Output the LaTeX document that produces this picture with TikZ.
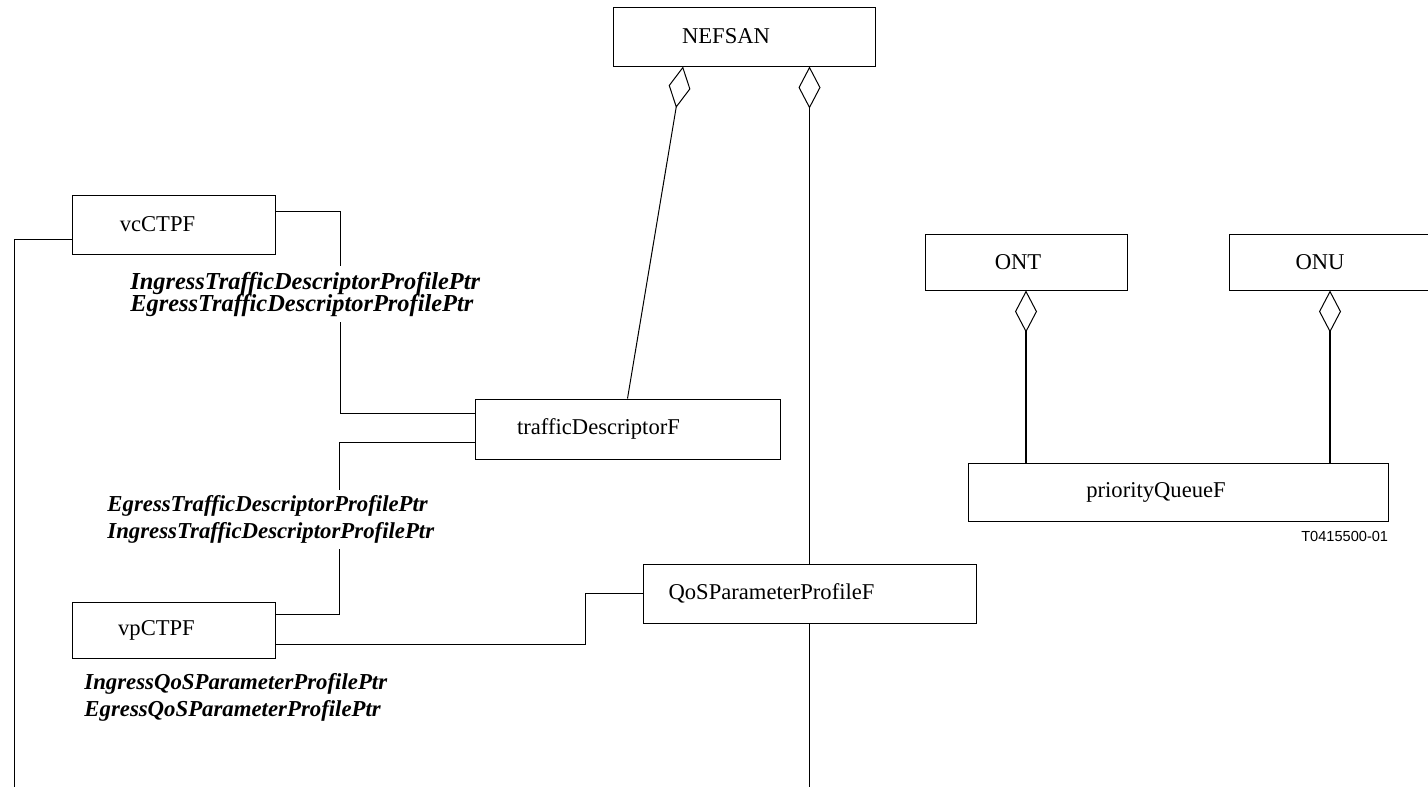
\documentclass[tikz,border=0pt]{standalone}
\usepackage{fontspec}
\setmainfont{Liberation Serif}
\newfontfamily\codefont{Liberation Sans}
\usetikzlibrary{arrows.meta}
\begin{document}
\begin{tikzpicture}[x=0.5pt,y=-0.5pt,
  box/.style={draw,line width=0.5pt,inner sep=0pt,font=\fontsize{11.3}{13}\selectfont},
  ptr/.style={fill=white,align=left,anchor=west,inner xsep=1pt,inner ysep=3pt,font=\fontsize{11.4}{13.2}\selectfont\bfseries\itshape},
  agg/.style={line width=0.5pt,-{Diamond[open,length=21pt,width=11pt,line width=0.5pt]}}]
\useasboundingbox (0,0) rectangle (1428,788);

\node[box,minimum width=131pt,minimum height=29.5pt] (nefsan) at (744,36.5) {NEFSAN\hspace*{18pt}};
\node[box,minimum width=101.5pt,minimum height=29.5pt] (vcctpf) at (173.5,224.5) {vcCTPF\hspace*{16pt}};
\node[box,minimum width=101.5pt,minimum height=28pt] (vpctpf) at (173.5,630) {vpCTPF\hspace*{17pt}};
\node[box,minimum width=152.5pt,minimum height=30pt] (tdf) at (627.5,429) {trafficDescriptorF\hspace*{29pt}};
\node[box,minimum width=166.5pt,minimum height=29.5pt] (qos) at (809.5,593.5) {QoSParameterProfileF\hspace*{38pt}};
\node[box,minimum width=101pt,minimum height=28pt] (ont) at (1026,262) {ONT\hspace*{8pt}};
\node[box,minimum width=101pt,minimum height=28pt] (onu) at (1330,262) {ONU\hspace*{10pt}};
\node[box,minimum width=210pt,minimum height=29pt] (pq) at (1178,492) {priorityQueueF\hspace*{22pt}};
\node[anchor=north east,inner sep=0pt,font=\codefont\fontsize{7.3}{8}\selectfont] (code) at ([yshift=-4.5pt]pq.south east) {T0415500-01};

\coordinate (leftend) at (14,787);
\draw[line width=0.5pt] ([yshift=-7.25pt]vcctpf.west) -| (leftend);
\draw[line width=0.5pt] ([yshift=6.75pt]vcctpf.east) -- ++(65,0) |- ([yshift=8pt]tdf.west);
\draw[line width=0.5pt] ([yshift=-6.5pt]tdf.west) -- ++(-135,0) |- ([yshift=8pt]vpctpf.east);
\draw[line width=0.5pt] ([yshift=-7pt]vpctpf.east) -- ++(310,0) |- (qos.west);
\draw[agg] (tdf.north) -- ([xshift=-30.5pt]nefsan.south);
\draw[agg] (qos.north) -- (qos.north |- nefsan.south);
\draw[line width=0.5pt] (qos.south) -- (qos.south |- leftend);
\draw[agg,line width=1pt] (pq.north -| ont.south) -- (ont.south);
\draw[agg,line width=1pt] (pq.north -| onu.south) -- (onu.south);

\node[ptr,font=\fontsize{12.2}{13}\selectfont\bfseries\itshape] (vcptr) at (128,294) {IngressTrafficDescriptorProfilePtr\\[-2pt]EgressTrafficDescriptorProfilePtr};
\node[ptr] (vpptr) at (105,519.5) {EgressTrafficDescriptorProfilePtr\\IngressTrafficDescriptorProfilePtr};
\node[ptr] (qosptr) at (82,697.5) {IngressQoSParameterProfilePtr\\EgressQoSParameterProfilePtr};
\end{tikzpicture}
\end{document}
